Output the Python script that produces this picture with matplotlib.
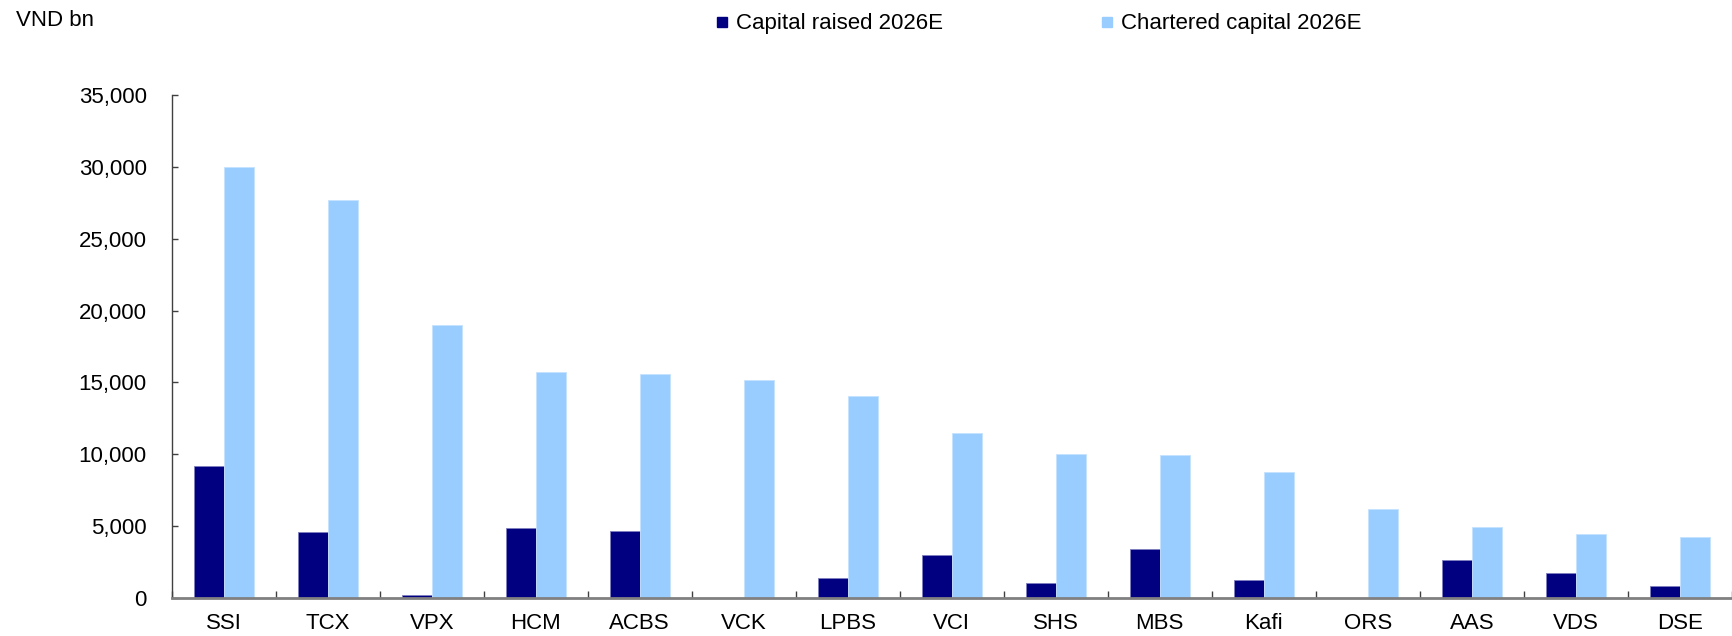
import matplotlib.pyplot as plt
import numpy as np
from matplotlib.lines import Line2D

plt.rcParams['font.family'] = ['Liberation Sans', 'DejaVu Sans']

# Datos (VND bn)
firms = ["SSI", "TCX", "VPX", "HCM", "ACBS", "VCK", "LPBS", "VCI", "SHS", "MBS",
         "Kafi", "ORS", "AAS", "VDS", "DSE"]
raised = [9200, 4600, 230, 4900, 4650, 0, 1410, 2990, 1065, 3400,
          1250, 0, 2640, 1760, 860]
chartered = [30000, 27730, 19000, 15700, 15620, 15160, 14050, 11460, 10050, 9950,
             8750, 6200, 4930, 4470, 4260]
yticks = [0, 5000, 10000, 15000, 20000, 25000, 30000, 35000]

dark = "#000080"
light = "#99CCFF"
fs = 16

fig = plt.figure(figsize=(17.33, 6.36), dpi=100)
ax = fig.add_axes([0.0991, 0.0597, 0.9002, 0.7909])

x = np.arange(len(firms))
w = 0.288
ax.bar(x - w / 2, raised, w, color=dark, edgecolor="#7f7fbf", linewidth=0.6)
ax.bar(x + w / 2, chartered, w, color=light, edgecolor="#c4e2ff", linewidth=0.6)

ax.set_xlim(-0.5, len(firms) - 0.5)
ax.set_ylim(0, 35000)

# Ejes
for s in ["top", "right"]:
    ax.spines[s].set_visible(False)
ax.spines["left"].set_color("#404040")
ax.spines["left"].set_linewidth(1.0)
ax.spines["bottom"].set_color("#808080")
ax.spines["bottom"].set_linewidth(2.0)

ax.set_yticks(yticks)
ax.set_yticklabels([f"{v:,}" for v in yticks])
ax.tick_params(axis="y", direction="in", length=4.5, width=1, color="#404040",
               labelsize=fs, pad=18)

ax.set_xticks(x)
ax.set_xticklabels(firms)
ax.set_xticks(np.arange(len(firms) + 1) - 0.5, minor=True)
ax.tick_params(axis="x", which="major", length=0, labelsize=fs, pad=11)
ax.tick_params(axis="x", which="minor", direction="in", length=5, width=1, color="#404040")

# Unidad
fig.text(16 / 1733, 1 - 20 / 636, "VND bn", fontsize=fs, va="center", ha="left")

# Leyenda
handles = [Line2D([], [], marker="s", linestyle="none", markersize=7, color=dark),
           Line2D([], [], marker="s", linestyle="none", markersize=7, color=light)]
fig.legend(handles, ["Capital raised 2026E", "Chartered capital 2026E"],
           loc="center left", bbox_to_anchor=(713 / 1733, 1 - 24 / 636),
           ncol=2, frameon=False, fontsize=fs, handlelength=0.8,
           handletextpad=0.22, columnspacing=7.0, borderpad=0, borderaxespad=0)

plt.savefig("out.png", dpi=100)
